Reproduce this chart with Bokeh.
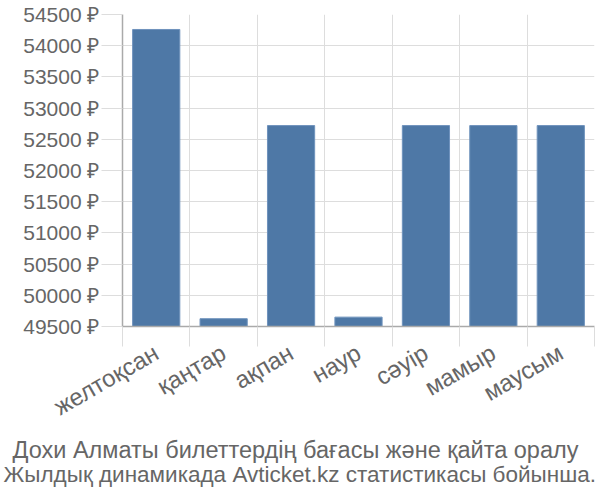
import math
from bokeh.plotting import figure
from bokeh.models import (Range1d, FixedTicker, PrintfTickFormatter,
                          CustomJSTickFormatter, Title, ColumnDataSource)
from bokeh.embed import file_html
from bokeh.resources import INLINE

months = ["желтоқсан", "қаңтар", "ақпан", "наур", "сәуір", "мамыр", "маусым"]
prices = [54260, 49625, 52720, 49650, 52720, 52720, 52720]
y_ticks = [49500, 50000, 50500, 51000, 51500, 52000, 52500, 53000, 53500, 54000, 54500]
title_lines = ["Дохи Алматы билеттердің бағасы және қайта оралу",
               "Жылдық динамикада Avticket.kz статистикасы бойынша."]

FONT = "Liberation Sans"
GRID = "#dddddd"
AXIS = "#aaaaaa"
TEXT = "#666666"

FRAME_LEFT = 122
FRAME_TOP = 14
FRAME_W = 472
FRAME_H = 312
centers = [i + 0.5 for i in range(len(months))]
bounds = list(range(len(months) + 1))
source = ColumnDataSource(dict(x=centers, price=prices, month=months))

p = figure(frame_width=FRAME_W, frame_height=FRAME_H,
           x_range=Range1d(0, len(months)), y_range=Range1d(y_ticks[0], y_ticks[-1]),
           output_backend="svg", toolbar_location=None,
           min_border_left=FRAME_LEFT, min_border_top=FRAME_TOP, min_border_right=6,
           min_border_bottom=494 - FRAME_TOP - FRAME_H)
p.outline_line_color = None
p.background_fill_color = "white"
p.border_fill_color = "white"

p.vbar(x="x", top="price", bottom=y_ticks[0], width=0.7, source=source,
       fill_color="#4e78a6", line_color="#6f93bd", line_width=1)

# y axis
ya = p.yaxis[0]
ya.ticker = FixedTicker(ticks=y_ticks, minor_ticks=[])
ya.formatter = PrintfTickFormatter(format="%d ₽")
ya.axis_line_color = AXIS
ya.axis_line_width = 1.5
ya.major_tick_in = 0
ya.major_tick_out = 21
ya.major_tick_line_color = GRID
ya.minor_tick_line_color = None
ya.major_label_text_font = FONT
ya.major_label_text_font_size = "21px"
ya.major_label_text_color = TEXT
ya.major_label_standoff = 2

# x axis
xa = p.xaxis[0]
xa.ticker = FixedTicker(ticks=centers, minor_ticks=bounds)
xa.formatter = CustomJSTickFormatter(args=dict(labels=months), code="""
    const i = Math.round(tick - 0.5);
    return (i >= 0 && i < labels.length) ? labels[i] : '';
""")
xa.axis_line_color = AXIS
xa.axis_line_width = 1.5
xa.major_tick_line_color = None
xa.minor_tick_in = 0
xa.minor_tick_out = 20
xa.minor_tick_line_color = GRID
xa.major_label_orientation = math.radians(30)
xa.major_label_text_font = FONT
xa.major_label_text_font_size = "24px"
xa.major_label_text_color = TEXT
xa.major_label_standoff = 4

p.xgrid.ticker = FixedTicker(ticks=bounds)
p.ygrid.ticker = FixedTicker(ticks=y_ticks)
p.xgrid.grid_line_color = GRID
p.ygrid.grid_line_color = GRID

# two-line caption below the chart (left-aligned titles shifted to be centred on the canvas)
for line, left_x, sd, fs in zip(title_lines, [12, 3], [0, -5], ["23.5px", "22.5px"]):
    t = Title(text=line, align="left", offset=left_x - FRAME_LEFT,
              text_font=FONT, text_font_size=fs, text_color=TEXT,
              text_font_style="normal", standoff=sd)
    p.add_layout(t, "below")

open("out.html", "w").write(file_html(p, INLINE))
